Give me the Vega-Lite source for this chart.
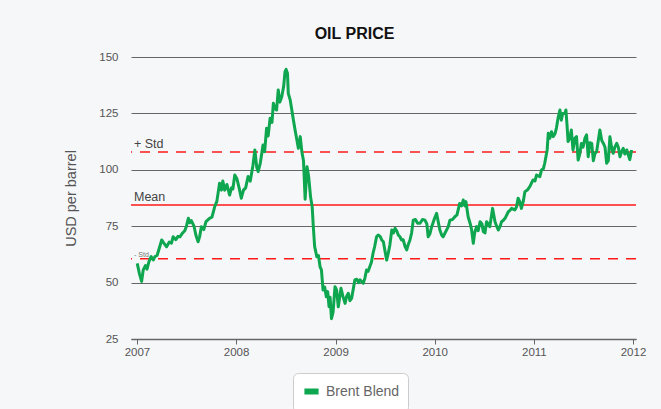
{
  "$schema": "https://vega.github.io/schema/vega-lite/v6.json",
  "autosize": {"type": "none"},
  "width": 505,
  "height": 282,
  "padding": {"left": 131, "top": 57, "right": 25, "bottom": 70},
  "background": "#f6f7f9",
  "title": {"text": "OIL PRICE", "fontSize": 16, "font": "Liberation Sans", "fontWeight": "bold", "color": "#111111", "anchor": "middle", "dx": -29, "offset": 9},
  "config": {
    "font": "Liberation Sans",
    "view": {"stroke": null}
  },
  "datasets": {
    "refs": [
      {"label": "+ Std", "value": 107.9, "kind": "dashed", "date": "2006-12-21"},
      {"label": "Mean", "value": 84.4, "kind": "solid", "date": "2006-12-21"},
      {"label": "- Std", "value": 60.6, "kind": "dashed", "date": "2006-12-21"}
    ]
  },
  "layer": [
    {
      "data": {"name": "refs"},
      "mark": {"type": "rule", "color": "#ff1a1a", "strokeWidth": 1.5},
      "encoding": {
        "y": {"field": "value", "type": "quantitative"},
        "strokeDash": {"field": "kind", "type": "nominal", "scale": {"domain": ["solid", "dashed"], "range": [[1, 0], [10, 8]]}, "legend": null}
      }
    },
    {
      "data": {"name": "refs"},
      "transform": [{"filter": "datum.label != '- Std'"}],
      "mark": {"type": "text", "align": "left", "baseline": "bottom", "dy": -1, "fontSize": 12.5, "color": "#444444"},
      "encoding": {
        "x": {"field": "date", "type": "temporal"},
        "y": {"field": "value", "type": "quantitative"},
        "text": {"field": "label"}
      }
    },
    {
      "data": {"name": "refs"},
      "transform": [{"filter": "datum.label == '- Std'"}],
      "mark": {"type": "text", "align": "left", "baseline": "bottom", "dy": -1, "fontSize": 7, "color": "#777777"},
      "encoding": {
        "x": {"field": "date", "type": "temporal"},
        "y": {"field": "value", "type": "quantitative"},
        "text": {"field": "label"}
      }
    },
    {
      "data": {"values": [
        {"date":"2007-01-02","price":58.5},{"date":"2007-01-10","price":54},{"date":"2007-01-18","price":50.5},{"date":"2007-01-24","price":55.6},
        {"date":"2007-02-01","price":57.5},{"date":"2007-02-07","price":56},{"date":"2007-02-14","price":59.3},{"date":"2007-02-22","price":61.5},
        {"date":"2007-03-02","price":60},{"date":"2007-03-08","price":61.5},{"date":"2007-03-16","price":62},{"date":"2007-03-26","price":66},
        {"date":"2007-04-02","price":68.9},{"date":"2007-04-10","price":67.5},{"date":"2007-04-20","price":65.9},{"date":"2007-04-30","price":68},
        {"date":"2007-05-08","price":67.5},{"date":"2007-05-14","price":70.3},{"date":"2007-05-24","price":69},{"date":"2007-06-01","price":70.5},
        {"date":"2007-06-08","price":70.3},{"date":"2007-06-18","price":72},{"date":"2007-06-26","price":73},{"date":"2007-07-02","price":75},
        {"date":"2007-07-09","price":78.5},{"date":"2007-07-14","price":76.5},{"date":"2007-07-20","price":77.5},{"date":"2007-07-30","price":75},
        {"date":"2007-08-06","price":71},{"date":"2007-08-14","price":68.1},{"date":"2007-08-20","price":70.5},{"date":"2007-08-26","price":74.8},
        {"date":"2007-09-04","price":73.5},{"date":"2007-09-12","price":77},{"date":"2007-09-25","price":78.5},{"date":"2007-10-04","price":79},
        {"date":"2007-10-14","price":83.6},{"date":"2007-10-22","price":86},{"date":"2007-11-01","price":94},{"date":"2007-11-08","price":91},
        {"date":"2007-11-13","price":95},{"date":"2007-11-20","price":91},{"date":"2007-11-28","price":93.5},{"date":"2007-12-08","price":88.8},
        {"date":"2007-12-15","price":92},{"date":"2007-12-20","price":91.5},{"date":"2007-12-27","price":97.7},{"date":"2008-01-04","price":96},
        {"date":"2008-01-12","price":92},{"date":"2008-01-20","price":87.4},{"date":"2008-01-28","price":91},{"date":"2008-02-05","price":92},
        {"date":"2008-02-14","price":97},{"date":"2008-02-22","price":95},{"date":"2008-03-03","price":102},{"date":"2008-03-10","price":108.8},
        {"date":"2008-03-17","price":101},{"date":"2008-03-22","price":99.2},{"date":"2008-03-30","price":103},{"date":"2008-04-09","price":111},
        {"date":"2008-04-15","price":108},{"date":"2008-04-22","price":118.4},{"date":"2008-04-28","price":115},{"date":"2008-05-05","price":122.8},
        {"date":"2008-05-12","price":121},{"date":"2008-05-17","price":129.5},{"date":"2008-05-24","price":127},{"date":"2008-05-29","price":126.5},
        {"date":"2008-06-04","price":135.4},{"date":"2008-06-10","price":130},{"date":"2008-06-17","price":132.4},{"date":"2008-06-24","price":137},
        {"date":"2008-06-29","price":143.5},{"date":"2008-07-03","price":144.5},{"date":"2008-07-08","price":142.8},{"date":"2008-07-11","price":133.9},
        {"date":"2008-07-18","price":131},{"date":"2008-07-24","price":126.5},{"date":"2008-07-30","price":122},{"date":"2008-08-05","price":117.6},
        {"date":"2008-08-12","price":113},{"date":"2008-08-17","price":109.5},{"date":"2008-08-24","price":114.7},{"date":"2008-08-30","price":108},
        {"date":"2008-09-05","price":104},{"date":"2008-09-11","price":87},{"date":"2008-09-18","price":101.4},{"date":"2008-09-24","price":97},
        {"date":"2008-10-01","price":88},{"date":"2008-10-07","price":83.6},{"date":"2008-10-11","price":75},{"date":"2008-10-16","price":66},
        {"date":"2008-10-24","price":61.5},{"date":"2008-10-30","price":62},{"date":"2008-11-05","price":57},{"date":"2008-11-10","price":55.6},
        {"date":"2008-11-16","price":46.7},{"date":"2008-11-22","price":48},{"date":"2008-11-28","price":43.7},{"date":"2008-12-03","price":46},
        {"date":"2008-12-08","price":39.3},{"date":"2008-12-12","price":43.5},{"date":"2008-12-17","price":34},{"date":"2008-12-23","price":37},
        {"date":"2008-12-30","price":48.2},{"date":"2009-01-05","price":46.7},{"date":"2009-01-11","price":39.3},{"date":"2009-01-17","price":44},
        {"date":"2009-01-21","price":47.5},{"date":"2009-01-28","price":44},{"date":"2009-02-05","price":40.8},{"date":"2009-02-11","price":44},
        {"date":"2009-02-17","price":45.3},{"date":"2009-02-23","price":42},{"date":"2009-03-01","price":43},{"date":"2009-03-07","price":47},
        {"date":"2009-03-13","price":51.2},{"date":"2009-03-20","price":51.5},{"date":"2009-03-27","price":50},{"date":"2009-04-01","price":51.2},
        {"date":"2009-04-07","price":50.5},{"date":"2009-04-13","price":49.7},{"date":"2009-04-19","price":52},{"date":"2009-04-25","price":55.6},
        {"date":"2009-05-01","price":55},{"date":"2009-05-07","price":57},{"date":"2009-05-13","price":59},{"date":"2009-05-19","price":63},
        {"date":"2009-05-25","price":66},{"date":"2009-06-01","price":70.3},{"date":"2009-06-07","price":71.1},{"date":"2009-06-14","price":70.5},
        {"date":"2009-06-20","price":68.9},{"date":"2009-06-26","price":68.1},{"date":"2009-07-02","price":64},{"date":"2009-07-08","price":60},
        {"date":"2009-07-14","price":63},{"date":"2009-07-20","price":66.7},{"date":"2009-07-27","price":73.3},{"date":"2009-08-02","price":72},
        {"date":"2009-08-08","price":74.1},{"date":"2009-08-14","price":73},{"date":"2009-08-20","price":71.1},{"date":"2009-08-26","price":70.3},
        {"date":"2009-09-01","price":68.9},{"date":"2009-09-07","price":69},{"date":"2009-09-14","price":66},{"date":"2009-09-20","price":64.5},
        {"date":"2009-09-26","price":67},{"date":"2009-10-02","price":68.9},{"date":"2009-10-08","price":72},{"date":"2009-10-14","price":77.7},
        {"date":"2009-10-22","price":78},{"date":"2009-10-30","price":76.3},{"date":"2009-11-08","price":76.3},{"date":"2009-11-17","price":78},
        {"date":"2009-11-26","price":77.7},{"date":"2009-12-03","price":76},{"date":"2009-12-08","price":70.3},{"date":"2009-12-14","price":71.5},
        {"date":"2009-12-21","price":74.8},{"date":"2009-12-30","price":78},{"date":"2010-01-08","price":80.7},{"date":"2010-01-14","price":77},
        {"date":"2010-01-20","price":73.3},{"date":"2010-01-27","price":71},{"date":"2010-02-01","price":70.3},{"date":"2010-02-08","price":72},
        {"date":"2010-02-20","price":74.8},{"date":"2010-02-26","price":77.7},{"date":"2010-03-08","price":78},{"date":"2010-03-16","price":79.2},
        {"date":"2010-03-24","price":80},{"date":"2010-04-03","price":85.1},{"date":"2010-04-10","price":84},{"date":"2010-04-16","price":86.6},
        {"date":"2010-04-22","price":84},{"date":"2010-04-26","price":85.9},{"date":"2010-05-04","price":79.2},{"date":"2010-05-12","price":76},
        {"date":"2010-05-17","price":73.3},{"date":"2010-05-23","price":67.4},{"date":"2010-05-28","price":72},{"date":"2010-06-04","price":74.8},
        {"date":"2010-06-10","price":73},{"date":"2010-06-17","price":77},{"date":"2010-06-24","price":76},{"date":"2010-06-29","price":72.6},
        {"date":"2010-07-05","price":72},{"date":"2010-07-11","price":77},{"date":"2010-07-17","price":76},{"date":"2010-07-23","price":74.8},
        {"date":"2010-08-02","price":82.9},{"date":"2010-08-11","price":77},{"date":"2010-08-17","price":75},{"date":"2010-08-23","price":73.3},
        {"date":"2010-08-30","price":75},{"date":"2010-09-04","price":77},{"date":"2010-09-10","price":77.5},{"date":"2010-09-17","price":78.5},
        {"date":"2010-09-29","price":81.4},{"date":"2010-10-05","price":82},{"date":"2010-10-11","price":82.9},{"date":"2010-10-23","price":82.2},
        {"date":"2010-10-29","price":83.5},{"date":"2010-11-04","price":87.4},{"date":"2010-11-10","price":86},{"date":"2010-11-16","price":82.9},
        {"date":"2010-11-23","price":86},{"date":"2010-11-29","price":90.3},{"date":"2010-12-08","price":91},{"date":"2010-12-17","price":92.5},
        {"date":"2010-12-29","price":95.5},{"date":"2011-01-05","price":95},{"date":"2011-01-11","price":97.7},{"date":"2011-01-23","price":97},
        {"date":"2011-01-29","price":99.9},{"date":"2011-02-05","price":100.5},{"date":"2011-02-10","price":102.9},{"date":"2011-02-19","price":108.8},
        {"date":"2011-02-23","price":116.2},{"date":"2011-03-01","price":114},{"date":"2011-03-07","price":116.9},{"date":"2011-03-13","price":114.7},
        {"date":"2011-03-20","price":116},{"date":"2011-03-25","price":118.5},{"date":"2011-04-01","price":123.5},{"date":"2011-04-07","price":126.5},
        {"date":"2011-04-12","price":122},{"date":"2011-04-17","price":125},{"date":"2011-04-25","price":125},{"date":"2011-04-29","price":126.5},
        {"date":"2011-05-03","price":120},{"date":"2011-05-07","price":112.5},{"date":"2011-05-13","price":114},{"date":"2011-05-19","price":117.6},
        {"date":"2011-05-25","price":108.8},{"date":"2011-06-01","price":114},{"date":"2011-06-07","price":114.7},{"date":"2011-06-13","price":104.3},
        {"date":"2011-06-19","price":107},{"date":"2011-06-25","price":111.7},{"date":"2011-07-01","price":110},{"date":"2011-07-08","price":114},
        {"date":"2011-07-14","price":115.5},{"date":"2011-07-20","price":105.8},{"date":"2011-07-26","price":112},{"date":"2011-08-02","price":111.7},
        {"date":"2011-08-08","price":104},{"date":"2011-08-14","price":107.3},{"date":"2011-08-20","price":108},{"date":"2011-08-25","price":112},
        {"date":"2011-09-01","price":117.6},{"date":"2011-09-08","price":113},{"date":"2011-09-14","price":111.7},{"date":"2011-09-20","price":110},
        {"date":"2011-09-26","price":102.9},{"date":"2011-10-02","price":104},{"date":"2011-10-08","price":114.7},{"date":"2011-10-14","price":110},
        {"date":"2011-10-20","price":107.3},{"date":"2011-10-26","price":110},{"date":"2011-11-02","price":111.7},{"date":"2011-11-08","price":110},
        {"date":"2011-11-14","price":105.8},{"date":"2011-11-20","price":108},{"date":"2011-11-26","price":109.5},{"date":"2011-12-02","price":107},
        {"date":"2011-12-09","price":108.8},{"date":"2011-12-15","price":106.5},{"date":"2011-12-20","price":104.5},{"date":"2011-12-27","price":108.8}
      ]},
      "mark": {"type": "line", "strokeWidth": 3, "strokeJoin": "round"},
      "encoding": {
        "x": {
          "field": "date", "type": "temporal",
          "scale": {"domain": [{"year": 2006, "month": 12, "date": 10}, {"year": 2012, "month": 1, "date": 12}]},
          "axis": {
            "title": null,
            "values": [{"year": 2007, "month": 1, "date": 1}, {"year": 2008, "month": 1, "date": 1}, {"year": 2009, "month": 1, "date": 1}, {"year": 2010, "month": 1, "date": 1}, {"year": 2011, "month": 1, "date": 1}, {"year": 2012, "month": 1, "date": 1}],
            "format": "%Y",
            "grid": false,
            "domainColor": "#666666",
            "domainWidth": 1.5,
            "tickColor": "#666666",
            "tickSize": 5,
            "labelColor": "#555555",
            "labelFontSize": 11.5,
            "labelPadding": 2,
            "labelFlush": false
          }
        },
        "y": {
          "field": "price", "type": "quantitative",
          "scale": {"domain": [25, 150], "nice": false, "zero": false},
          "axis": {
            "title": "USD per barrel",
            "titleFontSize": 14.5,
            "titleFontWeight": "normal",
            "titleColor": "#555555",
            "titlePadding": 20,
            "values": [25, 50, 75, 100, 125, 150],
            "grid": true,
            "gridColor": "#666666",
            "gridWidth": 1,
            "domain": false,
            "ticks": false,
            "labelColor": "#555555",
            "labelFontSize": 11.5,
            "labelPadding": 13
          }
        },
        "color": {
          "datum": "Brent Blend", "type": "nominal",
          "scale": {"range": ["#0ea64f"]},
          "legend": {
            "title": null,
            "orient": "none",
            "legendX": 162,
            "legendY": 316,
            "symbolType": "stroke",
            "symbolStrokeWidth": 6,
            "symbolSize": 200,
            "labelFontSize": 14,
            "labelColor": "#666666",
            "strokeColor": "#cccccc",
            "fillColor": "#ffffff",
            "cornerRadius": 5,
            "padding": 8
          }
        }
      }
    }
  ]
}
